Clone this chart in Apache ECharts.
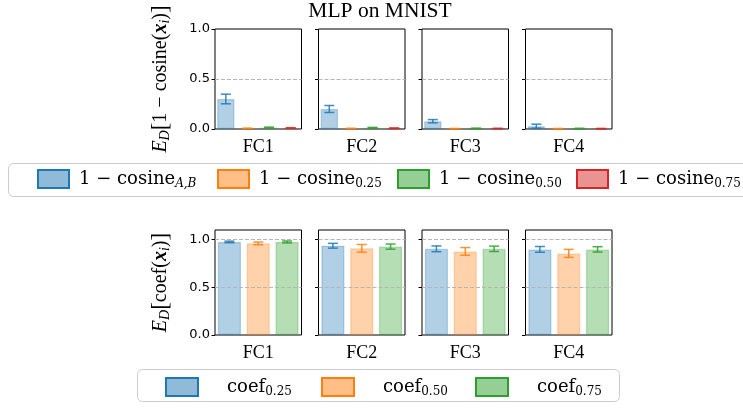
<!DOCTYPE html>
<html><head><meta charset="utf-8">
<script src="https://cdn.jsdelivr.net/npm/echarts@6/dist/echarts.min.js"></script>
<style>html,body{margin:0;padding:0;background:#fff}#c{width:743px;height:408px}</style>
</head><body><div id="c"></div>
<script>
// ---- data ----
const panels = ['FC1', 'FC2', 'FC3', 'FC4'];
const yTickValues = [0, 0.5, 1];
const gridLineValues = [0.5, 1];

const topNames = ['1 − cosine A,B', '1 − cosine 0.25', '1 − cosine 0.50', '1 − cosine 0.75'];
const topSubs = ['A,B', '0.25', '0.50', '0.75'];
const cosineAB = [0.30, 0.20, 0.078, 0.028];
const cosineABErr = [0.048, 0.035, 0.016, 0.02];
const cosine025 = [0.006, 0.005, 0.004, 0.004];
const cosine025Err = [0.002, 0.002, 0.001, 0.001];
const cosine050 = [0.014, 0.012, 0.006, 0.005];
const cosine050Err = [0.005, 0.004, 0.002, 0.002];
const cosine075 = [0.010, 0.008, 0.005, 0.004];
const cosine075Err = [0.003, 0.003, 0.002, 0.002];

const bottomNames = ['coef 0.25', 'coef 0.50', 'coef 0.75'];
const bottomSubs = ['0.25', '0.50', '0.75'];
const coef025 = [0.975, 0.935, 0.903, 0.897];
const coef025Err = [0.008, 0.025, 0.03, 0.03];
const coef050 = [0.960, 0.908, 0.876, 0.855];
const coef050Err = [0.014, 0.04, 0.04, 0.042];
const coef075 = [0.975, 0.926, 0.903, 0.897];
const coef075Err = [0.01, 0.027, 0.028, 0.028];

const colors = ['#1f77b4', '#ff7f0e', '#2ca02c', '#d62728'];

// ---- helpers ----
function rgba(hex, a) {
  const n = parseInt(hex.slice(1), 16);
  return 'rgba(' + (n >> 16) + ',' + ((n >> 8) & 255) + ',' + (n & 255) + ',' + a + ')';
}
const serif = 'Liberation Serif';
const mathSerif = 'DejaVu Serif';
const topValues = [cosineAB, cosine025, cosine050, cosine075];
const topErrs = [cosineABErr, cosine025Err, cosine050Err, cosine075Err];
const bottomValues = [coef025, coef050, coef075];
const bottomErrs = [coef025Err, coef050Err, coef075Err];

const gridLefts = [215, 318.5, 422, 525.5];
const gridW = 86.5;
const rows = [
  { top: 29, height: 100, max: 1, names: topNames, values: topValues, errs: topErrs, barWidth: '20%' },
  { top: 230, height: 105, max: 1.1, names: bottomNames, values: bottomValues, errs: bottomErrs, barWidth: '26.667%' }
];

function errRender(params, api) {
  const v = api.value(1), e = api.value(2), idx = api.value(3), n = api.value(4);
  const c = api.coord([0, v]);
  const bw = api.size([1, 0])[0];
  const x = c[0] + (idx - (n - 1) / 2) * bw / n;
  const yt = api.coord([0, v + e])[1];
  const yb = api.coord([0, Math.max(v - e, 0)])[1];
  const col = api.visual('color');
  const st = { stroke: col, lineWidth: 1.5 };
  return {
    type: 'group',
    children: [
      { type: 'line', shape: { x1: x, y1: yt, x2: x, y2: yb }, style: st },
      { type: 'line', shape: { x1: x - 5, y1: yt, x2: x + 5, y2: yt }, style: st },
      { type: 'line', shape: { x1: x - 5, y1: yb, x2: x + 5, y2: yb }, style: st }
    ]
  };
}

const grid = [], xAxis = [], yAxis = [], series = [];
const nameRich = {
  m: { fontFamily: serif, fontSize: 20, color: '#000', lineHeight: 22 },
  e: { fontFamily: serif, fontSize: 20, fontStyle: 'italic', color: '#000', lineHeight: 22 },
  b: { fontFamily: serif, fontSize: 23, color: '#000', lineHeight: 22 },
  x: { fontFamily: serif, fontSize: 20, fontStyle: 'italic', fontWeight: 'bold', color: '#000', lineHeight: 22 },
  s: { fontFamily: serif, fontSize: 14, fontStyle: 'italic', color: '#000', lineHeight: 8, verticalAlign: 'bottom' }
};
const yNames = [
  '{e|E}{s|D}{b|[}{m|1 − cosine(}{x|x}{s|i}{m|)}{b|]}',
  '{e|E}{s|D}{b|[}{m|coef(}{x|x}{s|i}{m|)}{b|]}'
];

rows.forEach((row, r) => {
  panels.forEach((p, pi) => {
    const idx = r * 4 + pi;
    grid.push({ left: gridLefts[pi], top: row.top, width: gridW, height: row.height,
      show: true, borderColor: '#000', borderWidth: 1, backgroundColor: 'transparent' });
    xAxis.push({ type: 'category', gridIndex: idx, data: [p],
      axisLine: { show: false }, axisTick: { show: false },
      axisLabel: { fontFamily: serif, fontSize: 18, color: '#000', margin: 9 } });
    yAxis.push({ type: 'value', gridIndex: idx, min: 0, max: row.max, interval: 0.5,
      axisLine: { show: false },
      axisTick: { show: true, length: 3.5, lineStyle: { color: '#000', width: 1 }, customValues: yTickValues },
      axisLabel: { show: pi === 0, customValues: yTickValues, margin: 5, fontFamily: 'DejaVu Sans', fontSize: 13, color: '#000',
        formatter: v => (Math.abs(v - 1.1) < 1e-6 ? '' : v.toFixed(1)) },
      splitLine: { show: false },
      name: pi === 0 ? yNames[r] : '', nameLocation: 'middle', nameRotate: 90, nameGap: 43,
      nameTextStyle: { rich: nameRich } });
    const n = row.names.length;
    row.names.forEach((nm, si) => {
      const col = colors[si];
      const bar = { type: 'bar', name: nm, xAxisIndex: idx, yAxisIndex: idx,
        data: [row.values[si][pi]], barWidth: row.barWidth, barGap: '25%',
        itemStyle: { color: rgba(col, 0.35), borderColor: rgba(col, 0.3), borderWidth: 1.2 },
        emphasis: { disabled: true }, animation: false, silent: true };
      if (si === 0) {
        bar.markLine = { silent: true, symbol: 'none', label: { show: false },
          lineStyle: { color: '#b5b5b5', type: [4, 2], width: 1 },
          data: gridLineValues.filter(v => v < row.max).map(v => ({ yAxis: v })) };
      }
      series.push(bar);
      series.push({ type: 'custom', name: nm, xAxisIndex: idx, yAxisIndex: idx,
        itemStyle: { color: rgba(col, 0.85) },
        data: [[0, row.values[si][pi], row.errs[si][pi], si, n]],
        renderItem: errRender, z: 5, animation: false, silent: true });
    });
  });
});

// legends: one component per entry
const legendRich = {
  g: { width: 5 },
  g2: { width: 24 },
  m: { fontFamily: mathSerif, fontSize: 18, color: '#000', lineHeight: 22 },
  s: { fontFamily: mathSerif, fontSize: 12, color: '#000', lineHeight: 8, verticalAlign: 'bottom' },
  si: { fontFamily: mathSerif, fontSize: 12, fontStyle: 'italic', color: '#000', lineHeight: 8, verticalAlign: 'bottom' }
};
const legends = [];
const topLegLefts = [37, 217, 397, 576];
topNames.forEach((nm, i) => {
  legends.push({ left: topLegLefts[i], top: 169, padding: 0, itemWidth: 31, itemHeight: 18, icon: 'rect',
    data: [{ name: nm, itemStyle: { color: rgba(colors[i], 0.5), borderColor: colors[i], borderWidth: 2 } }],
    formatter: () => '{g| }{m|1 − cosine}{' + (i === 0 ? 'si' : 's') + '|' + topSubs[i] + '}',
    textStyle: { rich: legendRich } });
});
const botLegLefts = [165, 321, 475];
bottomNames.forEach((nm, i) => {
  legends.push({ left: botLegLefts[i], top: 377, padding: 0, itemWidth: 32, itemHeight: 18, icon: 'rect',
    data: [{ name: nm, itemStyle: { color: rgba(colors[i], 0.5), borderColor: colors[i], borderWidth: 2 } }],
    formatter: () => '{g2| }{m|coef}{s|' + bottomSubs[i] + '}',
    textStyle: { rich: legendRich } });
});

const chart = echarts.init(document.getElementById('c'), null, { renderer: 'canvas' });
chart.setOption({
  backgroundColor: '#fff',
  animation: false,
  title: { text: 'MLP on MNIST', left: 380, textAlign: 'center', top: 0, padding: 0,
    textStyle: { fontFamily: serif, fontSize: 21.5, fontWeight: 'normal', color: '#000' } },
  graphic: [
    { type: 'rect', shape: { x: 8.5, y: 163.5, width: 740, height: 33, r: 5 }, style: { fill: 'none', stroke: '#cccccc', lineWidth: 1 } },
    { type: 'rect', shape: { x: 137.5, y: 369.5, width: 482, height: 32, r: 5 }, style: { fill: 'none', stroke: '#cccccc', lineWidth: 1 } }
  ],
  legend: legends,
  grid, xAxis, yAxis, series
});
</script></body></html>
